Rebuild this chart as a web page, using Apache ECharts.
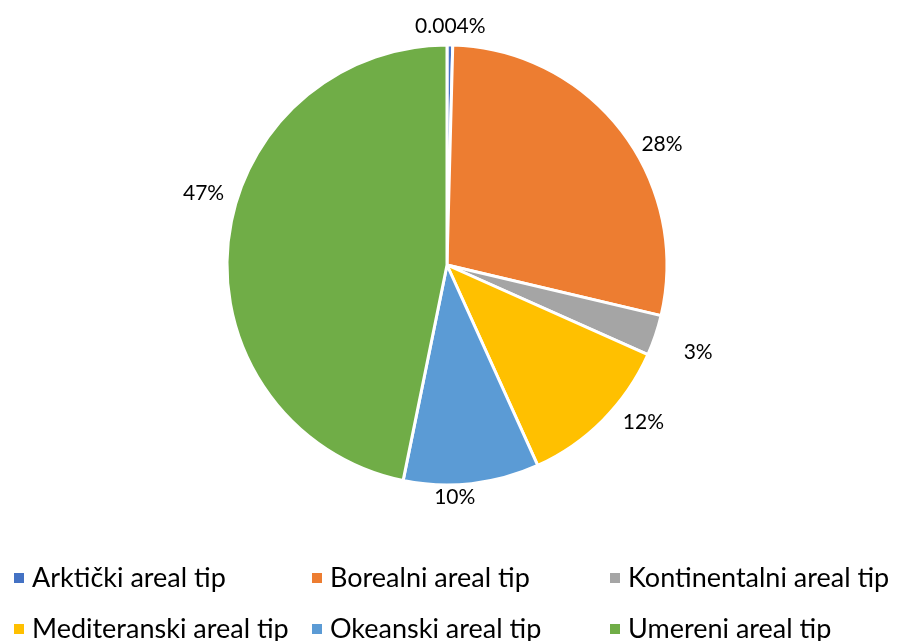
<!DOCTYPE html>
<html>
<head>
<meta charset="utf-8">
<script src="https://cdn.jsdelivr.net/npm/echarts@6/dist/echarts.min.js"></script>
<style>
  html, body { margin: 0; padding: 0; background: #fff; }
  #chart { width: 898px; height: 641px; }
</style>
</head>
<body>
<div id="chart"></div>
<script>
// categories and values (percent of total)
const categories = ['Arktički areal tip', 'Borealni areal tip', 'Kontinentalni areal tip',
                    'Mediteranski areal tip', 'Okeanski areal tip', 'Umereni areal tip'];
const values = [0.004, 28.4, 3.0, 11.6, 10.0, 47.0];
const colors = ['#4472C4', '#ED7D31', '#A5A5A5', '#FFC000', '#5B9BD5', '#70AD47'];

const chart = echarts.init(document.getElementById('chart'));

const seriesData = categories.map((name, i) => ({
  name: name,
  value: values[i],
  itemStyle: { color: colors[i] }
}));

// legend arranged in three columns of two rows
const legendCols = [[0, 3], [1, 4], [2, 5]];
const legendLeft = [12, 310, 608];
const legends = legendCols.map((col, k) => ({
  orient: 'vertical',
  left: legendLeft[k],
  top: 564,
  height: 120,
  padding: 0,
  itemWidth: 12,
  itemHeight: 12,
  itemGap: 23,
  icon: 'rect',
  selectedMode: false,
  data: col.map(i => categories[i]),
  textStyle: { fontFamily: 'Lato', fontSize: 27, lineHeight: 28, color: '#000', padding: [0, 0, 0, 2] }
}));

// small nudges so labels sit like the original's best-fit placement
const labelNudge = [[-40, -5], [4, 22], [10, 12], [5, -8], [-44, 0], [15, -48]];

const option = {
  animation: false,
  color: colors,
  legend: legends,
  series: [{
    type: 'pie',
    center: [447, 265],
    radius: [0, 220],
    startAngle: 90,
    clockwise: true,
    minAngle: 1.5,
    avoidLabelOverlap: false,
    itemStyle: { borderColor: '#fff', borderWidth: 3 },
    label: {
      show: true,
      position: 'outside',
      fontFamily: 'Lato',
      fontSize: 21,
      color: '#000',
      formatter: p => (p.value < 1 ? p.value : Math.round(p.value)) + '%'
    },
    labelLine: { show: false, length: 14, length2: 0 },
    labelLayout: p => ({ dx: labelNudge[p.dataIndex][0], dy: labelNudge[p.dataIndex][1] }),
    data: seriesData
  }]
};

chart.setOption(option);
</script>
</body>
</html>
